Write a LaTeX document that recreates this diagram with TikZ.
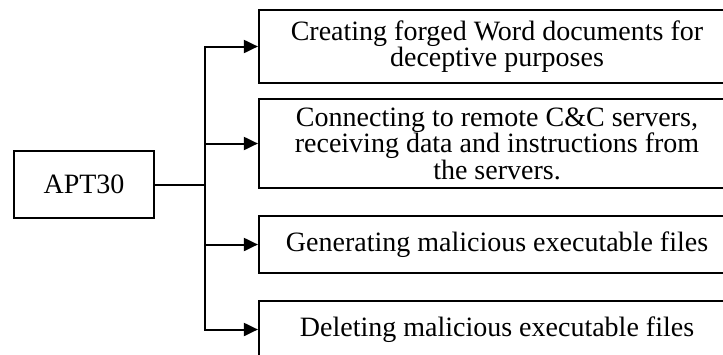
\documentclass[tikz,border=0pt]{standalone}
\usepackage{fontspec}
\setmainfont{Liberation Serif}
\usetikzlibrary{arrows.meta}
\tikzset{
  box/.style={draw, line width=2.2pt, rectangle, inner sep=0pt, align=center,
    font=\fontsize{28}{22}\selectfont},
  stepbox/.style={box, minimum width=476pt},
  link/.style={line width=2pt},
  arrowlink/.style={link, -{Triangle[length=14pt,width=13pt]}}
}
\begin{document}
\begin{tikzpicture}[x=1pt,y=-1pt]
\useasboundingbox (0,0) rectangle (723,354);
\clip (0,0) rectangle (723,354);

% source box
\node[box, minimum width=140pt, minimum height=67pt] (apt) at (84,184.5) {APT30};

% activity boxes (their right edges run past the frame)
\node[stepbox, minimum height=73pt] (b1) at (497,46.5)
  {Creating forged Word documents for\\deceptive purposes};
\node[stepbox, minimum height=89pt] (b2) at (497,143.5)
  {Connecting to remote C\&C servers,\\receiving data and instructions from\\the servers.};
\node[stepbox, minimum height=57pt] (b3) at (497,244.5)
  {\raisebox{-3pt}{Generating malicious executable files}};
\node[stepbox, minimum height=57pt] (b4) at (497,329.5)
  {\raisebox{-3pt}{Deleting malicious executable files}};

% branching connectors
\coordinate (j) at (205,184.5);
\draw[link] (apt.east) -- (j);
\foreach \t in {b1,b2,b3,b4}
  \draw[arrowlink] (j) |- (\t.west);
\end{tikzpicture}
\end{document}
